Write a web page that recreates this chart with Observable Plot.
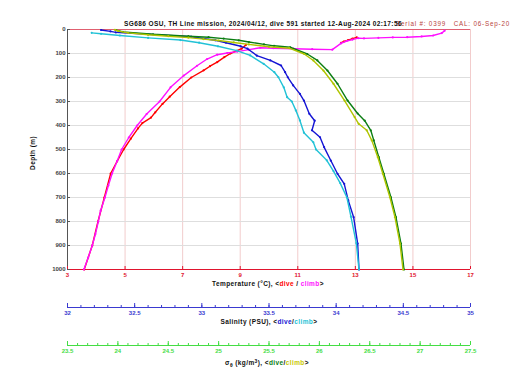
<!DOCTYPE html>
<html><head><meta charset="utf-8">
<script src="https://cdn.jsdelivr.net/npm/d3@7"></script>
<script src="https://cdn.jsdelivr.net/npm/@observablehq/plot@0.6"></script>
<style>
body{margin:0;background:#fff;}
#c{position:relative;width:520px;height:390px;overflow:hidden;font-family:"Liberation Sans",Arial,sans-serif;}
#c svg{position:absolute;left:0;top:0;}
.t{position:absolute;font-weight:bold;white-space:nowrap;line-height:1;font-size:6.5px;letter-spacing:0.4px;color:#111;}
</style></head><body><div id="c"></div>
<script>
// ---- tick values ----
const tempTicks = [3,5,7,9,11,13,15,17];
const depthTicks = [0,100,200,300,400,500,600,700,800,900,1000];
const salTicks = [32,32.5,33,33.5,34,34.5,35];
const sigTicks = [23.5,24,24.5,25,25.5,26,26.5,27,27.5];

// ---- temperature (°C, depth m) ----
const tempDiveTop = [[13.05,33],[12.9,38],[12.75,44],[12.6,50],[12.5,56]];
const tempDive = [[9.2,64],[9.05,80],[8.66,100],[8.45,115],[8.2,136],[7.95,153],[7.73,170],[7.3,200],[6.9,240],[6.55,280],[6.3,310],[6.05,345],[5.9,367],[5.6,390],[5.45,412],[5.2,455],[4.95,500],[4.72,550],[4.5,600],[4.28,700],[4.06,800],[3.86,900],[3.58,1000]];
const tempClimb = [[3.57,1000],[3.72,950],[3.86,900],[3.97,852],[4.07,800],[4.15,755],[4.3,700],[4.42,650],[4.55,600],[4.73,547],[4.88,500],[5.13,450],[5.42,400],[5.75,352],[6.2,300],[6.58,241],[7.04,192],[7.5,151],[7.85,123],[8.2,105],[8.55,98],[8.9,92],[9.3,84],[9.7,76],[10.15,78],[10.85,80],[11.5,82],[12.2,84],[12.5,58],[12.7,48],[12.9,42],[13.1,36],[13.3,37],[13.8,35],[14.3,33],[14.8,32],[15.3,29],[15.7,25],[16.0,15],[16.1,5]];

// ---- salinity (PSU, depth m) ----
const salDive = [[32.25,2],[32.32,8],[32.36,12],[32.6,20],[32.92,30],[33.1,45],[33.18,55],[33.29,70],[33.34,80],[33.41,109],[33.51,129],[33.59,150],[33.62,178],[33.64,199],[33.68,233],[33.73,268],[33.76,296],[33.8,351],[33.84,380],[33.82,420],[33.88,449],[33.91,490],[33.96,546],[34.01,601],[34.06,643],[34.09,712],[34.13,782],[34.16,892],[34.17,1000]];
const salClimb = [[34.17,1000],[34.15,890],[34.11,780],[34.08,700],[34.03,640],[33.98,590],[33.93,545],[33.85,500],[33.83,470],[33.76,430],[33.73,379],[33.7,337],[33.67,300],[33.635,282],[33.61,241],[33.57,199],[33.54,178],[33.46,143],[33.36,108],[33.26,88],[33.12,70],[32.98,55],[32.84,44],[32.6,35],[32.39,25],[32.25,18],[32.18,14]];

// ---- sigma-theta (kg/m3, depth m) ----
const sigDive = [[23.98,2],[24.05,10],[24.35,20],[24.7,28],[24.9,32],[25.05,38],[25.2,45],[25.3,52],[25.45,62],[25.55,68],[25.71,74],[25.88,102],[25.98,129],[26.08,171],[26.18,226],[26.28,296],[26.38,350],[26.45,380],[26.51,420],[26.54,462],[26.59,532],[26.64,601],[26.71,699],[26.76,782],[26.81,892],[26.84,1000]];
const sigClimb = [[26.83,1000],[26.8,892],[26.75,782],[26.7,699],[26.63,601],[26.58,532],[26.52,462],[26.47,420],[26.39,393],[26.35,365],[26.25,296],[26.14,226],[26.04,171],[25.94,129],[25.85,102],[25.7,78],[25.5,72],[25.3,62],[25.15,54],[25.0,46],[24.85,40],[24.7,34],[24.5,28],[24.3,22],[24.1,14],[24.0,6],[23.97,1]];

const C = {
  tDive:"#ff0000", tClimb:"#ff10ff",
  sDive:"#1414d4", sClimb:"#22c2d6",
  gDive:"#0b7d12", gClimb:"#b0c400",
  tAxis:"#e0142e", sAxis:"#3a3ad0", gAxis:"#44dd44"
};

const font = {fontFamily:"'Liberation Sans', Arial, sans-serif", fontSize:"6px", fontWeight:"bold", background:"transparent", overflow:"visible"};
const base = {width:520, height:300, marginTop:29, marginBottom:31, marginLeft:67, marginRight:50, style:font};
const fmt = d => String(d);
const xy = {x: d => d[0], y: d => d[1]};
function series(data, color) {
  return [Plot.line(data, {...xy, stroke:color, strokeWidth:1.4}), Plot.dot(data, {...xy, r:1.1, fill:color})];
}

const root = document.getElementById("c");

const main = Plot.plot({...base,
  x:{domain:[3,17]}, y:{domain:[0,1000], reverse:true},
  marks:[
    Plot.gridX(tempTicks, {stroke:"#f2cccc", strokeOpacity:1}),
    Plot.gridY(depthTicks, {stroke:"#dedede", strokeOpacity:1}),
    Plot.ruleX([3], {stroke:"#555"}),
    Plot.ruleY([0], {stroke:"#e06070"}),
    Plot.ruleY([1000], {stroke:C.tAxis}),
    Plot.tickX(tempTicks, {stroke:C.tAxis, insetTop:237}),
    Plot.tickY(depthTicks, {stroke:"#555", insetRight:400}),
    Plot.axisX(tempTicks, {tickSize:0, tickPadding:3, fill:C.tAxis, tickFormat:fmt, label:null}),
    Plot.axisY(depthTicks, {tickSize:0, tickPadding:2, fill:"#444", tickFormat:fmt, label:null}),
    ...series(tempDiveTop, C.tDive),
    ...series(tempDive, C.tDive),
    ...series(tempClimb, C.tClimb)
  ]});
root.appendChild(main);

const sal = Plot.plot({...base,
  x:{domain:[32,35], axis:null}, y:{domain:[0,1000], reverse:true, axis:null},
  marks:[...series(salDive, C.sDive), ...series(salClimb, C.sClimb)]});
root.appendChild(sal);

const sig = Plot.plot({...base,
  x:{domain:[23.5,27.5], axis:null}, y:{domain:[0,1000], reverse:true, axis:null},
  marks:[...series(sigDive, C.gDive), ...series(sigClimb, C.gClimb)]});
root.appendChild(sig);

function secAxis(domain, majors, color, top) {
  const minors = d3.ticks(domain[0], domain[1], Math.round((domain[1]-domain[0])*10));
  const p = Plot.plot({width:520, height:30, marginTop:2, marginBottom:24, marginLeft:67, marginRight:50, style:font,
    x:{domain}, y:{domain:[0,1], axis:null},
    marks:[
      Plot.ruleY([0], {stroke:color}),
      Plot.tickX(minors, {stroke:color, insetTop:2}),
      Plot.tickX(majors, {stroke:color}),
      Plot.axisX(majors, {tickSize:0, tickPadding:3, fill:color, tickFormat:fmt, label:null})
    ]});
  p.style.top = top + "px";
  root.appendChild(p);
}
secAxis([32,35], salTicks, C.sAxis, 301);
secAxis([23.5,27.5], sigTicks, C.gAxis, 339);

function label(html, cx, cy, opts = {}) {
  const d = document.createElement("div");
  d.className = "t";
  d.innerHTML = html;
  d.style.left = cx + "px";
  d.style.top = cy + "px";
  const tr = opts.left ? "translate(0,-50%)" : "translate(-50%,-50%)";
  d.style.transform = tr + (opts.rotate ? " rotate(-90deg)" : "");
  if (opts.style) Object.assign(d.style, opts.style);
  root.appendChild(d);
}
label("Serial #: 0399&nbsp;&nbsp; CAL: 06-Sep-20", 396, 23.5, {left:true, style:{color:"#b8453c", fontWeight:"normal", fontSize:"6.3px", letterSpacing:"0.8px"}});
label("SG686 OSU, TH Line mission, 2024/04/12, dive 591 started 12-Aug-2024 02:17:56", 124, 23.5, {left:true});
label(`Temperature (°C), &lt;<span style="color:${C.tDive}">dive</span> / <span style="color:${C.tClimb}">climb</span>&gt;`, 268, 284);
label("Depth (m)", 33, 153, {rotate:true});
label(`Salinity (PSU), &lt;<span style="color:${C.sDive}">dive</span>/<span style="color:${C.sClimb}">climb</span>&gt;`, 269, 322);
label(`σ<sub style="font-size:5px;vertical-align:-1.5px">θ</sub> (kg/m<sup style="font-size:5px;vertical-align:2.5px">3</sup>), &lt;<span style="color:${C.gDive}">dive</span>/<span style="color:#c8c800">climb</span>&gt;`, 267, 363);
</script>
</body></html>
